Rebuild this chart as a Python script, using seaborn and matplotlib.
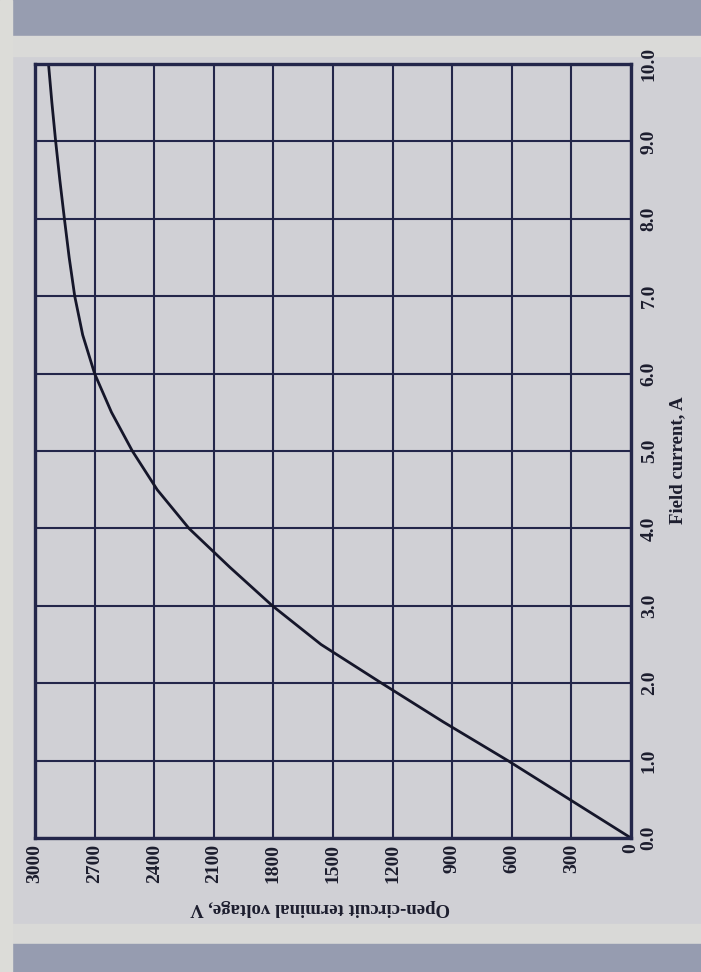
import numpy as np
import pandas as pd
import matplotlib
matplotlib.use("Agg")
import matplotlib.pyplot as plt
from matplotlib.patches import Rectangle
import seaborn as sns

# ---- data ----
field_current = [0.0, 0.5, 1.0, 1.5, 2.0, 2.5, 3.0, 3.5, 4.0, 4.5, 5.0,
                 5.5, 6.0, 6.5, 7.0, 7.5, 8.0, 8.5, 9.0, 9.5, 10.0]
terminal_voltage = [0, 310, 620, 945, 1255, 1560, 1805, 2020, 2225, 2385, 2510,
                    2615, 2700, 2760, 2800, 2828, 2852, 2875, 2896, 2915, 2932]
voltage_ticks = [0, 300, 600, 900, 1200, 1500, 1800, 2100, 2400, 2700, 3000]
voltage_tick_labels = ["0", "300", "600", "900", "1200", "1500", "1800",
                       "2100", "2400", "2700", "3000"]
current_ticks = [0, 1, 2, 3, 4, 5, 6, 7, 8, 9, 10]
current_tick_labels = ["0.0", "1.0", "2.0", "3.0", "4.0", "5.0", "6.0",
                       "7.0", "8.0", "9.0", "10.0"]
x_title = "Open-circuit terminal voltage, V"
y_title = "Field current, A"

df = pd.DataFrame({"I": field_current, "V": terminal_voltage})

sns.set_theme(style="white")
plt.rcParams["font.family"] = ["Liberation Serif", "DejaVu Serif"]

W, H = 701, 972
paper = "#d0d0d5"
ink = "#23264a"

fig = plt.figure(figsize=(W / 100, H / 100), dpi=100, facecolor=paper)

# photo background bands (decoration)
def band(x0, y0, x1, y1, color):
    fig.patches.append(Rectangle((x0 / W, 1 - y1 / H), (x1 - x0) / W, (y1 - y0) / H,
                                 transform=fig.transFigure, color=color, zorder=-10))

band(0, 0, W, 36, "#979db0")
band(0, 36, W, 56, "#dadad8")
band(0, 924, W, 944, "#d9d9d7")
band(0, 944, W, H, "#969cb0")
band(0, 0, 12, H, "#dcdcd8")

left, right, top, bottom = 35, 631, 64, 838
ax = fig.add_axes([left / W, 1 - bottom / H, (right - left) / W, (bottom - top) / H])
ax.set_facecolor(paper)

sns.lineplot(data=df, x="V", y="I", ax=ax, color="#15162a", linewidth=2.0,
             sort=False, estimator=None)

ax.set_xlim(3000, 0)
ax.set_ylim(0, 10)
ax.set_xticks(voltage_ticks)
ax.set_xticklabels(voltage_tick_labels, rotation=90, fontsize=14,
                   fontweight="bold", color="#1c1d2e")
ax.yaxis.tick_right()
ax.set_yticks(current_ticks)
ax.set_yticklabels(current_tick_labels, rotation=90, fontsize=14,
                   fontweight="bold", color="#1c1d2e", va="center")
ax.tick_params(axis="x", length=0, pad=4)
ax.tick_params(axis="y", length=0, pad=7)

ax.grid(True, color=ink, linewidth=1.5)
for s in ax.spines.values():
    s.set_visible(True)
    s.set_color(ink)
    s.set_linewidth(2.4)

ax.set_xlabel(x_title, rotation=180, fontsize=13.5, fontweight="bold", color="#1c1d2e")
ax.xaxis.label.set_va("center")
ax.xaxis.set_label_coords((320 - left) / (right - left), (bottom - 907) / (bottom - top))
ax.yaxis.set_label_position("right")
ax.set_ylabel(y_title, rotation=90, fontsize=13.5, fontweight="bold", color="#1c1d2e")
ax.yaxis.label.set_va("center")
ax.yaxis.label.set_ha("center")
ax.yaxis.set_label_coords((678 - left) / (right - left), (bottom - 460) / (bottom - top))

fig.savefig("out.png", dpi=100, facecolor=fig.get_facecolor())
